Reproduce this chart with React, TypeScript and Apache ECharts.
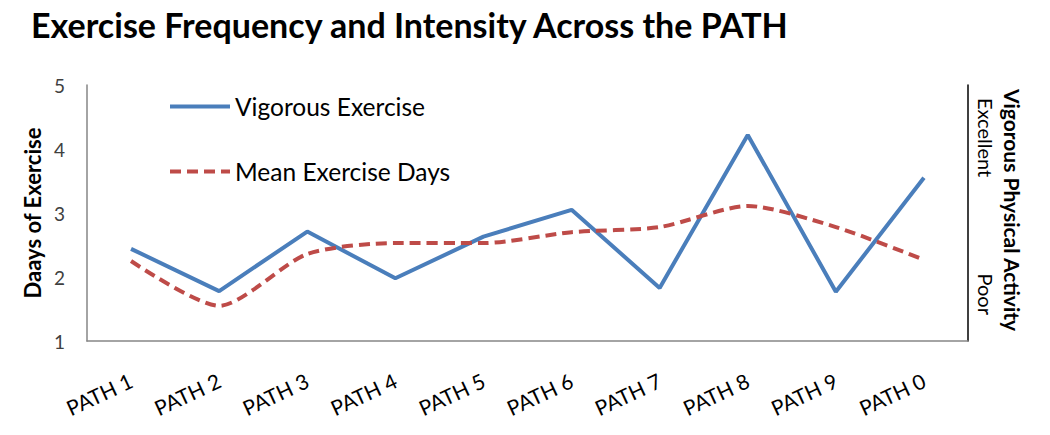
import React, { useEffect, useRef } from "react";
import * as echarts from "echarts";

const categories = ["PATH 1", "PATH 2", "PATH 3", "PATH 4", "PATH 5", "PATH 6", "PATH 7", "PATH 8", "PATH 9", "PATH 0"];
const vigorous = [2.44, 1.78, 2.71, 1.98, 2.63, 3.05, 1.83, 4.22, 1.77, 3.55];
const meanDays = [2.25, 1.55, 2.36, 2.53, 2.53, 2.70, 2.78, 3.11, 2.78, 2.27];
const yTicks = { min: 1, max: 5, interval: 1 };

const FONT = "Lato, 'Open Sans', sans-serif";

export default function App() {
  const ref = useRef<HTMLDivElement>(null);
  useEffect(() => {
    if (!ref.current) return;
    const chart = echarts.init(ref.current, null, { renderer: "svg" });
    chart.setOption({
      animation: false,
      backgroundColor: "#ffffff",
      textStyle: { fontFamily: FONT },
      title: {
        text: "Exercise Frequency and Intensity Across the PATH",
        left: 26,
        top: 2,
        textStyle: { fontSize: 34, fontWeight: "bold", color: "#000", fontFamily: FONT },
      },
      legend: {
        orient: "vertical",
        left: 163,
        top: 89,
        itemWidth: 60,
        itemHeight: 14,
        itemGap: 40,
        itemStyle: { opacity: 0 },
        lineStyle: { width: 4 },
        textStyle: { fontSize: 24.5, color: "#000", fontFamily: FONT },
        data: ["Vigorous Exercise", "Mean Exercise Days"],
      },
      grid: { left: 87, right: 82, top: 85, bottom: 94 },
      xAxis: {
        type: "category",
        data: categories,
        boundaryGap: true,
        axisLine: { lineStyle: { color: "#868686", width: 1.5 } },
        axisTick: { show: false },
        axisLabel: { rotate: 25, fontSize: 21, color: "#000", margin: 38, interval: 0, fontFamily: FONT },
      },
      yAxis: [
        {
          type: "value",
          min: yTicks.min,
          max: yTicks.max,
          interval: yTicks.interval,
          name: "Daays of Exercise",
          nameLocation: "middle",
          nameGap: 44,
          nameTextStyle: { fontSize: 22, fontWeight: "bold", color: "#000", fontFamily: FONT },
          axisLine: { show: true, lineStyle: { color: "#868686", width: 1.5 } },
          axisTick: { show: false },
          splitLine: { show: false },
          axisLabel: { fontSize: 19, color: "#404040", margin: 22, fontFamily: FONT },
        },
        {
          type: "value",
          position: "right",
          min: yTicks.min,
          max: yTicks.max,
          interval: yTicks.interval,
          axisLine: { show: true, lineStyle: { color: "#000", width: 1.5 } },
          axisTick: { show: false },
          splitLine: { show: false },
          axisLabel: { show: false },
        },
      ],
      series: [
        {
          name: "Vigorous Exercise",
          type: "line",
          data: vigorous,
          symbol: "none",
          lineStyle: { color: "#4A7EBB", width: 4 },
          itemStyle: { color: "#4A7EBB" },
        },
        {
          name: "Mean Exercise Days",
          type: "line",
          data: meanDays,
          symbol: "none",
          smooth: 0.25,
          lineStyle: { color: "#BE4B48", width: 4, type: [11, 6] },
          itemStyle: { color: "#BE4B48" },
        },
      ],
      graphic: [
        {
          type: "text",
          x: 1012,
          y: 210,
          rotation: -Math.PI / 2,
          style: {
            text: "Vigorous Physical Activity",
            fontSize: 21,
            fontWeight: "bold",
            fill: "#000",
            fontFamily: FONT,
            align: "center",
            verticalAlign: "middle",
          },
        },
        {
          type: "text",
          x: 986,
          y: 98,
          rotation: -Math.PI / 2,
          style: {
            text: "Excellent",
            fontSize: 20,
            fill: "#000",
            fontFamily: FONT,
            align: "left",
            verticalAlign: "middle",
          },
        },
        {
          type: "text",
          x: 986,
          y: 315,
          rotation: -Math.PI / 2,
          style: {
            text: "Poor",
            fontSize: 20,
            fill: "#000",
            fontFamily: FONT,
            align: "right",
            verticalAlign: "middle",
          },
        },
      ],
    });
    return () => chart.dispose();
  }, []);
  return <div ref={ref} style={{ width: 1050, height: 435, position: "absolute", left: 0, top: 0 }} />;
}
